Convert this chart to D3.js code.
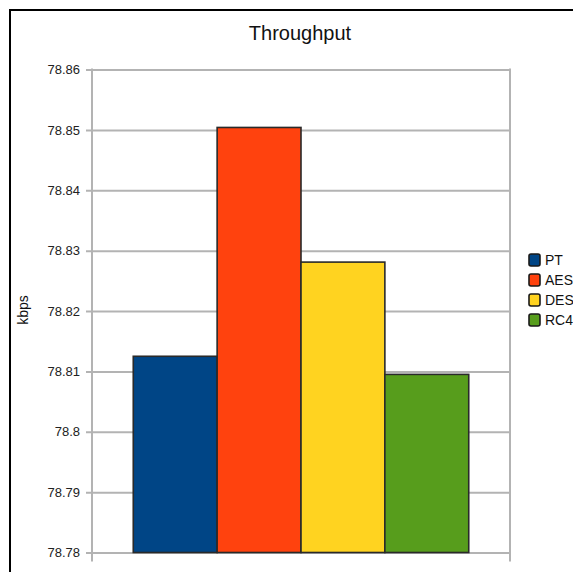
<!DOCTYPE html>
<html>
<head>
<meta charset="utf-8">
<script src="https://cdn.jsdelivr.net/npm/d3@7"></script>
<style>
  html, body { margin: 0; padding: 0; background: #fff; }
  svg { display: block; }
  text { font-family: "Liberation Sans", Arial, sans-serif; }
</style>
</head>
<body>
<div id="chart"></div>
<script>
// Throughput per cipher (kbps)
const categories = ["PT", "AES", "DES", "RC4"];
const values = [78.8125, 78.8504, 78.8281, 78.8095];
const colors = ["#004586", "#ff420e", "#ffd320", "#579d1c"];
const yTicks = [78.78, 78.79, 78.8, 78.81, 78.82, 78.83, 78.84, 78.85, 78.86];
const titleText = "Throughput";
const yLabel = "kbps";

const W = 573, H = 572;
const plot = { left: 92, right: 510, top: 69.5, bottom: 552.5 };

const svg = d3.select("#chart").append("svg")
  .attr("width", W).attr("height", H);

// outer frame (runs past the right and bottom edges)
svg.append("rect")
  .attr("x", 10).attr("y", 10)
  .attr("width", 600).attr("height", 600)
  .attr("fill", "#fff").attr("stroke", "#000").attr("stroke-width", 2);

const y = d3.scaleLinear()
  .domain([78.78, 78.86])
  .range([plot.bottom, plot.top]);

const x0 = d3.scaleBand()
  .domain([""])
  .range([plot.left, plot.right])
  .paddingOuter(0.123);

const x1 = d3.scaleBand()
  .domain(categories)
  .range([0, x0.bandwidth()]);

const fmt = d3.format(".4~r");

// horizontal grid lines with left ticks
const yAxis = d3.axisLeft(y)
  .tickValues(yTicks)
  .tickSize(-(plot.right - plot.left))
  .tickPadding(12)
  .tickFormat(fmt);

const gy = svg.append("g")
  .attr("transform", `translate(${plot.left},0)`)
  .call(yAxis);
gy.select(".domain").remove();
gy.selectAll(".tick line")
  .attr("x1", -6)
  .attr("stroke", "#b3b3b3").attr("stroke-width", 2);
gy.selectAll(".tick text")
  .attr("fill", "#222")
  .style("font-size", "13px")
  .style("font-family", "'Liberation Sans', Arial, sans-serif");

// plot side walls with bottom ticks at the category boundaries
[plot.left, plot.right].forEach(xv => {
  svg.append("line")
    .attr("x1", xv).attr("x2", xv)
    .attr("y1", plot.top - 1).attr("y2", plot.bottom + 9)
    .attr("stroke", "#b3b3b3").attr("stroke-width", 2);
});

// bars
svg.append("g")
  .attr("transform", `translate(${x0("")},0)`)
  .selectAll("rect")
  .data(categories.map((c, i) => ({ c, v: values[i], col: colors[i] })))
  .join("rect")
  .attr("x", d => x1(d.c))
  .attr("y", d => y(d.v))
  .attr("width", x1.bandwidth())
  .attr("height", d => y(78.78) - y(d.v))
  .attr("fill", d => d.col)
  .attr("stroke", "#2a2a2a")
  .attr("stroke-width", 1.6);

// title
svg.append("text")
  .attr("x", 300).attr("y", 40)
  .attr("text-anchor", "middle")
  .attr("fill", "#111")
  .style("font-size", "20px")
  .text(titleText);

// y-axis title
svg.append("text")
  .attr("transform", "translate(28,310) rotate(-90)")
  .attr("text-anchor", "middle")
  .attr("fill", "#111")
  .style("font-size", "14px")
  .text(yLabel);

// legend
const legend = svg.append("g").attr("transform", "translate(529,260)");
const item = legend.selectAll("g")
  .data(categories.map((c, i) => ({ c, col: colors[i] })))
  .join("g")
  .attr("transform", (d, i) => `translate(0,${i * 20})`);
item.append("rect")
  .attr("x", 0).attr("y", -6)
  .attr("width", 11).attr("height", 12)
  .attr("rx", 2)
  .attr("fill", d => d.col)
  .attr("stroke", "#1a1a1a").attr("stroke-width", 1.6);
item.append("text")
  .attr("x", 16).attr("y", 5)
  .attr("fill", "#111")
  .style("font-size", "14px")
  .text(d => d.c);
</script>
</body>
</html>
